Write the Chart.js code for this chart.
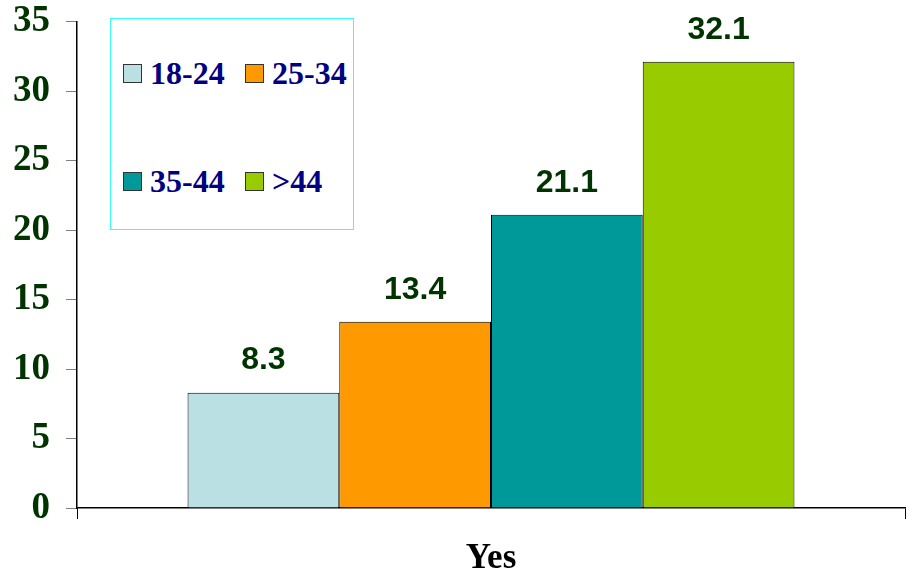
<!DOCTYPE html>
<html>
<head>
<meta charset="utf-8">
<script src="https://cdn.jsdelivr.net/npm/chart.js@4/dist/chart.umd.min.js"></script>
<style>
    body { margin: 0; background: #fff; }
    #wrap { position: relative; width: 906px; height: 574px; }
    #legend {
        position: absolute; left: 110px; top: 18px; width: 242px; height: 210px;
        border: 1px solid #33ffff; background: #fff;
        font: bold 32px "Liberation Serif", "Times New Roman", serif; color: #000080;
    }
    .item { position: absolute; white-space: nowrap; line-height: 30px; }
    .sw { display: inline-block; width: 17px; height: 17px; border: 1px solid #333; margin-right: 8px; vertical-align: 1px; }
</style>
</head>
<body>
<div id="wrap">
    <canvas id="chart" width="906" height="574"></canvas>
    <div id="legend"></div>
</div>
<script>
var categorias = ["Yes"];
var grupos = ["18-24", "25-34", "35-44", ">44"];
var valores = [8.3, 13.4, 21.1, 32.1];
var colores = ["#BBE0E3", "#FF9900", "#009999", "#99CC00"];
var marcas = [0, 5, 10, 15, 20, 25, 30, 35];

var datasets = [];
for (var i = 0; i < grupos.length; i++) {
    datasets.push({
        label: grupos[i],
        backgroundColor: colores[i],
        borderColor: "#000",
        borderWidth: 1,
        data: [valores[i]]
    });
}

// etiquetas de valor encima de cada barra
var etiquetas = {
    id: "etiquetas",
    afterDatasetsDraw: function (chart) {
        var ctx = chart.ctx;
        ctx.save();
        ctx.font = "bold 32px 'Liberation Sans', Arial, sans-serif";
        ctx.fillStyle = "#003300";
        ctx.textAlign = "center";
        ctx.textBaseline = "bottom";
        chart.data.datasets.forEach(function (ds, i) {
            chart.getDatasetMeta(i).data.forEach(function (bar, j) {
                ctx.fillText(ds.data[j].toFixed(1), bar.x, bar.y - 16);
            });
        });
        ctx.restore();
    }
};

var canvas = document.getElementById('chart').getContext('2d');
window.bar = new Chart(canvas, {
    type: "bar",
    data: { labels: categorias, datasets: datasets },
    plugins: [etiquetas],
    options: {
        responsive: false,
        animation: false,
        layout: { padding: { left: 0, right: 1, top: 14, bottom: 0 } },
        datasets: { bar: { barPercentage: 1, categoryPercentage: 0.733 } },
        plugins: { legend: { display: false }, tooltip: { enabled: false } },
        scales: {
            x: {
                afterFit: function (s) { s.height = 66; },
                grid: { display: true, drawOnChartArea: false, tickLength: 11, color: "#000" },
                border: { color: "#000", width: 1.5 },
                ticks: {
                    color: "#000", padding: 19,
                    font: { family: "'Liberation Serif', 'Times New Roman', serif", size: 35, weight: "bold" }
                }
            },
            y: {
                min: 0, max: 35,
                afterFit: function (s) { s.width = 77; },
                afterBuildTicks: function (axis) {
                    axis.ticks = marcas.map(function (v) { return { value: v }; });
                },
                grid: { display: true, drawOnChartArea: false, tickLength: 11, color: "#808080" },
                border: { color: "#000", width: 1.5 },
                ticks: {
                    color: "#003300", padding: 16,
                    font: { family: "'Liberation Serif', 'Times New Roman', serif", size: 37, weight: "bold", lineHeight: 0.3 }
                }
            }
        }
    }
});

// leyenda en caja
var leg = document.getElementById('legend');
var pos = [[12, 39], [134, 39], [12, 147], [134, 147]];
for (var k = 0; k < grupos.length; k++) {
    var d = document.createElement('div');
    d.className = 'item';
    d.style.left = pos[k][0] + 'px';
    d.style.top = pos[k][1] + 'px';
    d.innerHTML = '<span class="sw" style="background:' + colores[k] + '"></span>';
    d.appendChild(document.createTextNode(grupos[k]));
    leg.appendChild(d);
}
</script>
</body>
</html>
